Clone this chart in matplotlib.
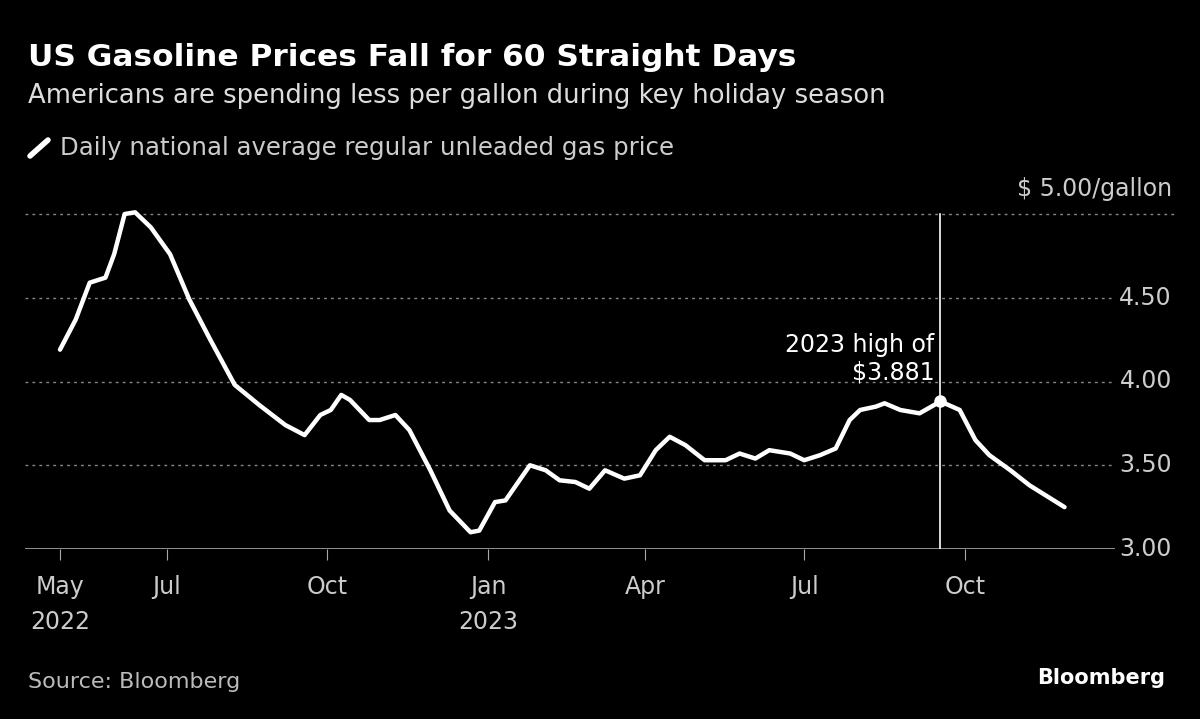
import matplotlib
matplotlib.use("Agg")
import matplotlib.pyplot as plt
import numpy as np

days = [0,9,17,26,31,37,43,52,63,74,86,100,114,129,140,149,155,161,166,177,183,192,200,212,223,235,240,249,255,263,269,278,286,295,303,312,323,332,341,349,358,369,381,389,398,406,418,426,435,444,452,458,467,472,481,492,504,515,524,532,544,555,575]
price = [4.19,4.37,4.59,4.62,4.76,5.00,5.01,4.92,4.76,4.49,4.25,3.98,3.86,3.74,3.68,3.80,3.83,3.92,3.89,3.77,3.77,3.80,3.71,3.47,3.23,3.10,3.11,3.28,3.29,3.41,3.50,3.47,3.41,3.40,3.36,3.47,3.42,3.44,3.59,3.67,3.62,3.53,3.53,3.57,3.54,3.59,3.57,3.53,3.56,3.60,3.77,3.83,3.85,3.87,3.83,3.81,3.881,3.83,3.65,3.56,3.47,3.38,3.25]
tick_days = [0,61,153,245,335,426,518]
tick_labels = ["May\n2022","Jul","Oct","Jan\n2023","Apr","Jul","Oct"]
y_ticks = [3.0,3.5,4.0,4.5]
y_labels = ["3.00","3.50","4.00","4.50"]
high_day, high_val = 504, 3.881

W,H = 1200,719
fig = plt.figure(figsize=(12,7.19), dpi=100, facecolor='black')
ppd = 1.747
x0 = -(60-25)/ppd
x1 = (1175-60)/ppd
ax = fig.add_axes([25/W, 1-549/H, 1150/W, (549-200)/H], facecolor='black')
ax.set_xlim(x0, x1)
ax.set_ylim(3.0, 5.0+14/167.5)
for s in ax.spines.values(): s.set_visible(False)
ax.axhline(3.0, color='#aaaaaa', lw=1.2, zorder=1)
for yv in [3.5,4.0,4.5,5.0]:
    ax.axhline(yv, color='#888888', lw=1, ls=(0,(2,3)), zorder=1)
ax.set_yticks([])
ax.set_xticks(tick_days)
ax.set_xticklabels(tick_labels, color='#cccccc', fontsize=17, linespacing=1.55)
ax.tick_params(axis='x', colors='#aaaaaa', length=8, labelcolor='#cccccc', pad=11)
for yv, lab in zip(y_ticks, y_labels):
    ax.text(x1-3/ppd, yv, lab, color='#cccccc', fontsize=17, ha='right', va='center',
            bbox=dict(facecolor='black', edgecolor='none', pad=3), zorder=3)
ax.text(x1-3/ppd, 5.0+0.08, "$ 5.00/gallon", color='#cccccc', fontsize=17, ha='right', va='bottom')
ax.plot(days, price, color='white', lw=3.2, solid_capstyle='round', solid_joinstyle='round', zorder=4, clip_on=False)
ax.plot([high_day, high_day], [3.0, 5.0], color='white', lw=1.2, zorder=2)
ax.plot(high_day, high_val, 'o', color='white', ms=8, zorder=5)
ax.text(high_day-6/ppd, high_val+0.1, "2023 high of\n$3.881", color='white', fontsize=17, ha='right', va='bottom', linespacing=1.2)

fig.text(28/W, 1-57/H, "US Gasoline Prices Fall for 60 Straight Days", color='white', fontsize=22.5, fontweight='bold', va='center')
fig.text(28/W, 1-96/H, "Americans are spending less per gallon during key holiday season", color='#dddddd', fontsize=18.6, va='center')
fig.lines.append(plt.Line2D([30/W, 48/W], [1-156/H, 1-140/H], transform=fig.transFigure, color='white', lw=4, solid_capstyle='round'))
fig.text(60/W, 1-148/H, "Daily national average regular unleaded gas price", color='#cccccc', fontsize=17.6, va='center')
fig.text(28/W, 1-682/H, "Source: Bloomberg", color='#bbbbbb', fontsize=16, va='center')
fig.text(1165/W, 1-678/H, "Bloomberg", color='white', fontsize=15, fontweight='bold', va='center', ha='right')
fig.savefig("out.png", dpi=100, facecolor='black')
